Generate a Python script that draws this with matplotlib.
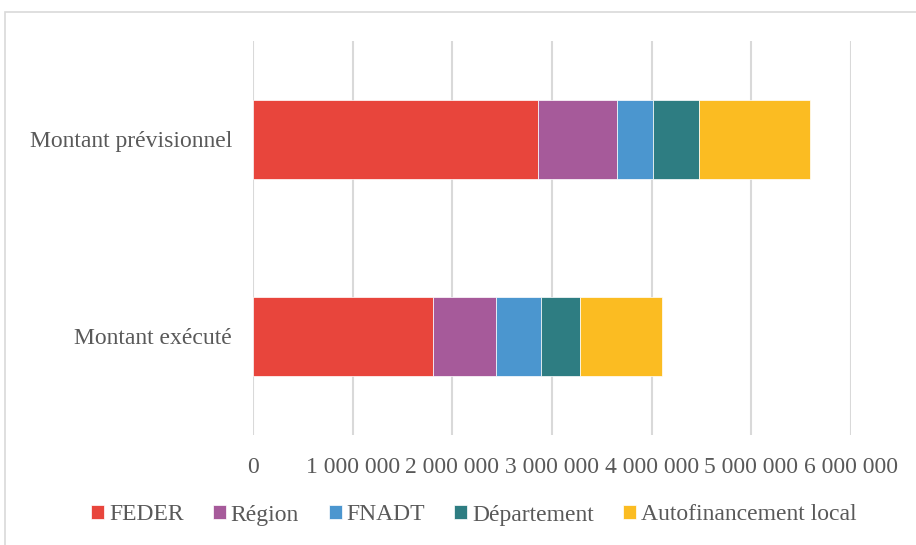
import matplotlib
matplotlib.use('Agg')
import matplotlib.pyplot as plt
from matplotlib.patches import Rectangle

categories = ['Montant exécuté', 'Montant prévisionnel']
series_names = ['FEDER', 'Région', 'FNADT', 'Département', 'Autofinancement local']
feder = [1811000, 2862000]
region = [623000, 792000]
fnadt = [451000, 357000]
departement = [397000, 464000]
autofin = [824000, 1118000]
colors = ['#e8453c', '#a65a9a', '#4b96cf', '#2e7d82', '#fbbc22']
x_ticks = [0, 1000000, 2000000, 3000000, 4000000, 5000000, 6000000]
x_labels = ['0', '1 000 000', '2 000 000', '3 000 000', '4 000 000', '5 000 000', '6 000 000']

plt.rcParams['font.family'] = ['Liberation Serif', 'DejaVu Serif']
txt_color = '#595959'

fig = plt.figure(figsize=(9.16, 5.45), dpi=100)
ax = fig.add_axes([253 / 916, 1 - 435 / 545, (851 - 253) / 916, (435 - 41) / 545])

left = [0, 0]
for name, vals, col in zip(series_names, [feder, region, fnadt, departement, autofin], colors):
    ax.barh(range(len(categories)), vals, left=left, height=0.4, color=col,
            edgecolor='white', linewidth=0.5, label=name, zorder=3)
    left = [a + b for a, b in zip(left, vals)]

ax.set_xlim(0, 6000000)
ax.set_ylim(-0.5, 1.5)
ax.set_xticks(x_ticks)
ax.set_xticklabels(x_labels)
ax.set_yticks(range(len(categories)))
ax.set_yticklabels(categories)
ax.tick_params(axis='both', length=0, labelsize=17, colors=txt_color)
ax.tick_params(axis='x', pad=16)
ax.tick_params(axis='y', pad=15)
ax.grid(axis='x', color='#d9d9d9', linewidth=1.5, zorder=0)
for s in ax.spines.values():
    s.set_visible(False)

leg = fig.legend(loc='center', bbox_to_anchor=(474 / 916, 1 - 515 / 545), ncol=5, frameon=False,
                 fontsize=17, handlelength=0.55, handleheight=0.55, handletextpad=0.2,
                 columnspacing=1.25, labelcolor=txt_color)
for t in leg.get_texts():
    t.set_va('baseline')

fig.patches.append(Rectangle((5 / 916, -0.1), 1.2, 1 - 12 / 545 + 0.1, transform=fig.transFigure,
                             fill=False, edgecolor='#d9d9d9', linewidth=1.2))

fig.savefig('out.png', dpi=100)
